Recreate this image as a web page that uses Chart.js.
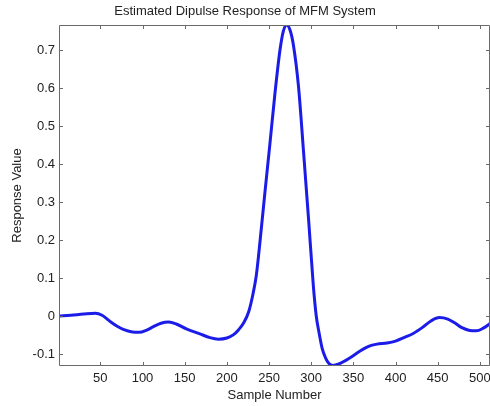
<!DOCTYPE html>
<html lang="en">
<head>
<meta charset="UTF-8">
<title>Estimated Dipulse Response of MFM System</title>
<style>
    html, body {
        margin: 0;
        padding: 0;
        background: #fff;
    }
    #wrap {
        width: 490px;
        height: 406px;
    }
</style>
</head>
<body>
<div id="wrap">
    <canvas id="dipulseChart" width="490" height="406"></canvas>
</div>

<script src="https://cdn.jsdelivr.net/npm/chart.js"></script>
<script>
    // sample positions and response values
    const sampleNumbers = [1, 15, 30, 44, 52, 62, 70, 78, 88, 96, 105, 113, 122, 131, 140, 152, 168, 180, 190, 200,
        208, 214, 220, 226, 231, 235, 239.5, 245, 251, 257, 263, 267, 271, 275, 279, 285, 291, 297, 302.6, 306,
        309, 313, 317, 321, 326, 332, 340, 348, 358, 368, 378, 390, 400, 410, 421, 432, 442, 452, 462, 470,
        478, 488, 496, 504, 512];
    const responseValues = [0.000, 0.002, 0.005, 0.007, 0.002, -0.015, -0.027, -0.036, -0.042, -0.043, -0.037, -0.028, -0.019, -0.016, -0.021, -0.034, -0.047, -0.057, -0.061, -0.058,
        -0.049, -0.036, -0.018, 0.012, 0.058, 0.108, 0.200, 0.322, 0.452, 0.585, 0.700, 0.750, 0.766, 0.752, 0.712, 0.603, 0.430, 0.252, 0.078, 0.000,
        -0.040, -0.085, -0.110, -0.125, -0.130, -0.127, -0.118, -0.107, -0.092, -0.080, -0.074, -0.071, -0.066, -0.057, -0.046, -0.030, -0.013, -0.004, -0.008, -0.018,
        -0.030, -0.038, -0.039, -0.032, -0.020];

    const xTicks = [50, 100, 150, 200, 250, 300, 350, 400, 450, 500];
    const yTicks = [-0.1, 0, 0.1, 0.2, 0.3, 0.4, 0.5, 0.6, 0.7];

    const fontFamily = '"Liberation Sans", Arial, sans-serif';
    const textColor = '#222';
    const boxColor = '#6a6a6a';

    // MATLAB style box with inward ticks on all four sides
    const boxPlugin = {
        id: 'matlabBox',
        afterDatasetsDraw(chart) {
            const ctx = chart.ctx;
            const area = chart.chartArea;
            const xs = chart.scales.x;
            const ys = chart.scales.y;
            const len = 4;
            ctx.save();
            ctx.strokeStyle = boxColor;
            ctx.lineWidth = 1;
            ctx.beginPath();
            ctx.rect(area.left + 0.5, area.top + 0.5, area.right - area.left - 1, area.bottom - area.top - 1);
            xTicks.forEach(v => {
                const px = Math.round(xs.getPixelForValue(v)) + 0.5;
                ctx.moveTo(px, area.bottom);
                ctx.lineTo(px, area.bottom - len);
                ctx.moveTo(px, area.top);
                ctx.lineTo(px, area.top + len);
            });
            yTicks.forEach(v => {
                const py = Math.round(ys.getPixelForValue(v)) + 0.5;
                ctx.moveTo(area.left, py);
                ctx.lineTo(area.left + len, py);
                ctx.moveTo(area.right, py);
                ctx.lineTo(area.right - len, py);
            });
            ctx.stroke();
            ctx.restore();
        }
    };

    const ctx = document.getElementById('dipulseChart').getContext('2d');

    const chart = new Chart(ctx, {
        type: 'line',
        data: {
            datasets: [{
                label: 'Dipulse response',
                data: sampleNumbers.map((s, i) => ({ x: s, y: responseValues[i] })),
                borderColor: 'rgb(28, 28, 232)',
                borderWidth: 3,
                pointRadius: 0,
                cubicInterpolationMode: 'monotone',
                fill: false
            }]
        },
        options: {
            responsive: false,
            animation: false,
            layout: { padding: { left: 0, right: 0, top: 0, bottom: 0 } },
            plugins: {
                legend: { display: false },
                tooltip: { enabled: false },
                title: {
                    display: true,
                    text: 'Estimated Dipulse Response of MFM System',
                    color: textColor,
                    font: { family: fontFamily, size: 13, weight: 'normal', lineHeight: 1.2 },
                    padding: { top: 4, bottom: 5.4 }
                }
            },
            scales: {
                x: {
                    type: 'linear',
                    min: 1,
                    max: 512,
                    grid: { display: false, drawTicks: false },
                    border: { display: false },
                    afterBuildTicks: axis => { axis.ticks = xTicks.map(v => ({ value: v })); },
                    afterFit: axis => {
                        axis.height = 40;
                        axis.paddingLeft = 0;
                        axis.paddingRight = 0;
                    },
                    ticks: {
                        color: textColor,
                        padding: 5,
                        maxRotation: 0,
                        autoSkip: false,
                        font: { family: fontFamily, size: 13 }
                    },
                    title: {
                        display: true,
                        text: 'Sample Number',
                        color: textColor,
                        font: { family: fontFamily, size: 13, lineHeight: 1.2 },
                        padding: { top: 0, bottom: 3 }
                    }
                },
                y: {
                    type: 'linear',
                    min: -0.1316,
                    max: 0.766,
                    grid: { display: false, drawTicks: false },
                    border: { display: false },
                    afterBuildTicks: axis => { axis.ticks = yTicks.map(v => ({ value: v })); },
                    afterFit: axis => {
                        axis.width = 59;
                        axis.paddingTop = 0;
                        axis.paddingBottom = 0;
                    },
                    ticks: {
                        color: textColor,
                        padding: 4,
                        autoSkip: false,
                        font: { family: fontFamily, size: 13 },
                        callback: v => (Math.abs(v) < 1e-9 ? '0' : (Math.round(v * 10) / 10).toString())
                    },
                    title: {
                        display: true,
                        text: 'Response Value',
                        color: textColor,
                        font: { family: fontFamily, size: 13, lineHeight: 1.2 },
                        padding: { top: 10, bottom: 10 }
                    }
                }
            }
        },
        plugins: [boxPlugin]
    });
</script>
</body>
</html>
